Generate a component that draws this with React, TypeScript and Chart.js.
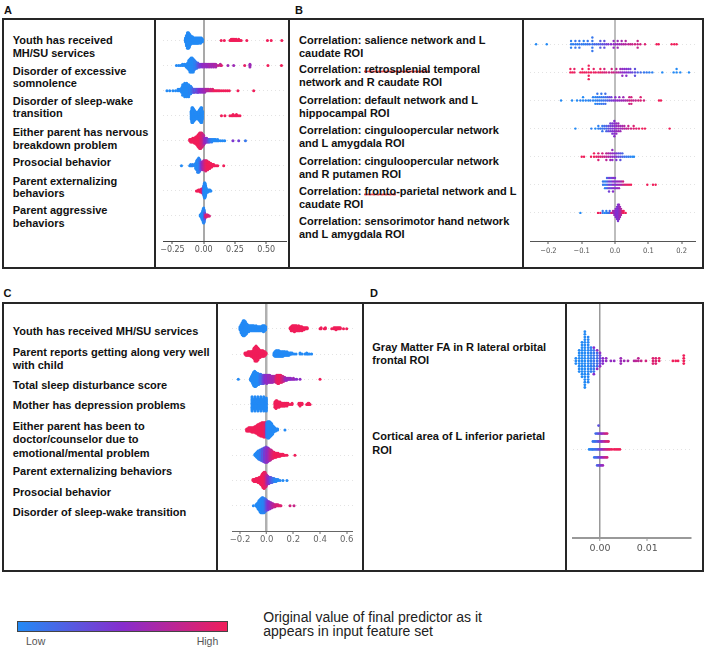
import React, { useEffect, useRef } from "react";
import { Chart, registerables } from "chart.js";
Chart.register(...registerables);

// Each entry: [SHAP value, number of samples sharing that value, original feature value 0 = low .. 1 = high]
type Trip = [number, number, number];

// ---------- Panel A ----------
const A_LABELS = [
  "Youth has received\nMH/SU services",
  "Disorder of excessive\nsomnolence",
  "Disorder of sleep-wake\ntransition",
  "Either parent has nervous\nbreakdown problem",
  "Prosocial behavior",
  "Parent externalizing\nbehaviors",
  "Parent aggressive\nbehaviors",
];
const A_TICKS = [-0.25, 0, 0.25, 0.5];
const A1: Trip[] = [[-0.146,4,0],[-0.138,9,0],[-0.13,13,0],[-0.122,13,0],[-0.114,11,0],[-0.106,8,0],[-0.098,6,0],[-0.09,6,0],[-0.082,5,0],[-0.074,5,0],[-0.066,5,0],[-0.058,5,0],[-0.05,5,0],[-0.042,5,0],[-0.034,4,0],[-0.026,5,0],[-0.018,4,0],[-0.01,3,0],[0.14,1,1],[0.165,1,1],[0.21,1,1],[0.22,2,1],[0.23,2,1],[0.24,2,1],[0.25,2,1],[0.26,2,1],[0.27,1,1],[0.28,2,1],[0.29,1,1],[0.3,1,1],[0.345,1,1],[0.51,1,1],[0.54,1,1],[0.625,1,1]];
const A2: Trip[] = [[-0.218,1,0],[-0.2,1,0],[-0.185,1,0],[-0.17,2,0],[-0.155,2,0],[-0.14,3,0],[-0.128,5,0],[-0.119,8,0],[-0.11,11,0],[-0.101,12,0],[-0.092,12,0],[-0.083,11,0],[-0.074,8,0.05],[-0.065,6,0.05],[-0.056,5,0.1],[-0.047,4,0.2],[-0.038,3,0.3],[-0.029,3,0.4],[-0.02,2,0.45],[-0.011,3,0.5],[-0.002,2,0.55],[0.007,3,0.55],[0.016,2,0.6],[0.025,3,0.55],[0.034,2,0.6],[0.043,3,0.6],[0.052,2,0.65],[0.061,3,0.6],[0.07,2,0.65],[0.079,3,0.6],[0.088,2,0.7],[0.097,3,0.65],[0.115,1,0.8],[0.133,2,0.75],[0.142,1,0.9],[0.194,1,0.6],[0.24,1,0.6],[0.328,1,0.95],[0.37,3,0.6],[0.514,1,1],[0.622,1,1]];
const A3: Trip[] = [[-0.294,1,0],[-0.272,1,0],[-0.246,1,0],[-0.225,1,0],[-0.205,2,0],[-0.19,2,0],[-0.176,4,0],[-0.168,8,0],[-0.16,6,0],[-0.152,10,0],[-0.144,7,0],[-0.136,10,0],[-0.128,6,0],[-0.12,9,0],[-0.112,5,0.05],[-0.104,6,0],[-0.096,4,0.1],[-0.088,3,0.15],[-0.08,3,0.2],[-0.072,3,0.35],[-0.064,2,0.1],[-0.056,3,0.4],[-0.048,3,0.3],[-0.04,3,0.45],[-0.032,2,0.5],[-0.024,3,0.5],[-0.016,2,0.55],[-0.008,3,0.55],[0.0,2,0.6],[0.008,3,0.6],[0.016,2,0.65],[0.024,2,0.7],[0.032,2,0.75],[0.04,2,0.7],[0.048,1,0.8],[0.056,2,0.85],[0.064,1,0.9],[0.072,2,0.9],[0.08,1,0.95],[0.09,1,1],[0.1,1,1],[0.11,1,1],[0.12,1,0.95],[0.13,1,1],[0.145,1,1],[0.16,1,1],[0.175,1,1],[0.19,1,1],[0.205,1,1],[0.274,1,1],[0.4,1,1]];
const A4: Trip[] = [[-0.1,8,0],[-0.094,14,0],[-0.088,14,0],[-0.082,12,0],[-0.076,10,0],[-0.07,8,0],[-0.064,7,0],[-0.058,6,0],[-0.052,6,0],[-0.046,7,0],[-0.04,8,0],[-0.034,10,0],[-0.028,12,0],[-0.022,14,0],[-0.016,14,0],[-0.01,8,0],[0.142,1,1],[0.17,1,1],[0.21,1,1],[0.225,1,1],[0.235,2,1],[0.25,1,1],[0.262,2,1],[0.275,1,1],[0.29,1,1]];
const A5: Trip[] = [[-0.112,2,1],[-0.104,3,1],[-0.096,3,1],[-0.088,4,1],[-0.08,4,1],[-0.072,5,1],[-0.064,6,1],[-0.056,7,1],[-0.048,9,1],[-0.04,11,1],[-0.032,13,1],[-0.024,13,0.95],[-0.016,12,0.9],[-0.008,10,0.85],[0.0,8,0.75],[0.008,5,0.6],[0.016,4,0.5],[0.024,4,0.55],[0.032,3,0.4],[0.04,3,0.3],[0.048,3,0.2],[0.056,2,0.1],[0.064,3,0.05],[0.072,2,0],[0.08,2,0],[0.088,2,0],[0.096,2,0],[0.104,1,0],[0.112,2,0],[0.12,1,0],[0.136,1,0],[0.152,1,0],[0.168,1,0],[0.234,1,0.45],[0.28,1,0.4],[0.334,1,0.1]];
const A6: Trip[] = [[-0.178,1,0],[-0.112,1,0],[-0.104,2,0],[-0.096,1,0],[-0.088,2,0.05],[-0.072,2,0],[-0.064,5,0],[-0.056,8,0],[-0.048,11,0.05],[-0.04,12,0],[-0.032,10,0.1],[-0.024,7,0.25],[-0.016,6,0.45],[-0.008,7,0.6],[0.0,8,0.7],[0.008,8,0.8],[0.016,9,0.9],[0.024,8,0.95],[0.032,7,1],[0.04,6,1],[0.048,5,1],[0.056,4,1],[0.064,3,1],[0.072,2,1],[0.08,2,1],[0.088,1,1],[0.1,1,1],[0.112,1,1],[0.16,1,1]];
const A7: Trip[] = [[-0.058,1,1],[-0.05,1,1],[-0.042,2,1],[-0.034,2,1],[-0.026,3,1],[-0.018,4,0.95],[-0.01,5,0.85],[-0.004,6,0.6],[0.0,10,0.15],[0.004,14,0],[0.008,16,0],[0.012,14,0],[0.016,10,0],[0.02,6,0],[0.026,3,0],[0.034,3,0],[0.042,2,0],[0.05,2,0],[0.058,1,0]];
const A8: Trip[] = [[-0.028,2,0],[-0.02,4,0],[-0.014,7,0],[-0.008,10,0],[-0.004,14,0],[0.0,16,0],[0.004,13,0.05],[0.008,7,0.3],[0.014,3,0.7],[0.02,3,0.9],[0.026,2,1],[0.032,2,0.8],[0.04,1,1],[0.046,1,0.85]];

// ---------- Panel B ----------
const B_LABELS = [
  "Correlation: salience network and L\ncaudate ROI",
  "Correlation: retrosplenial temporal\nnetwork and R caudate ROI",
  "Correlation: default network and L\nhippocampal ROI",
  "Correlation: cinguloopercular network\nand L amygdala ROI",
  "Correlation: cinguloopercular network\nand R putamen ROI",
  "Correlation: fronto-parietal network and L\ncaudate ROI",
  "Correlation: sensorimotor hand network\nand L amygdala ROI",
];
const B_TICKS = [-0.2, -0.1, 0, 0.1, 0.2];
const B1: Trip[] = [[-0.237,1,0],[-0.205,1,0],[-0.132,3,0.05],[-0.126,1,0.05],[-0.119,3,0.1],[-0.113,1,0.05],[-0.107,3,0.1],[-0.1,1,0.1],[-0.094,2,0.05],[-0.088,1,0.1],[-0.082,2,0.1],[-0.076,1,0.15],[-0.068,5,0.1],[-0.062,1,0.2],[-0.056,1,0.15],[-0.05,1,0.2],[-0.044,3,0.25],[-0.038,1,0.3],[-0.032,3,0.3],[-0.026,1,0.4],[-0.02,1,0.45],[-0.012,1,0.5],[-0.004,3,0.55],[0.002,1,0.55],[0.008,3,0.6],[0.014,1,0.6],[0.02,2,0.65],[0.026,1,0.7],[0.032,2,0.7],[0.04,1,0.75],[0.046,1,0.8],[0.052,1,0.8],[0.06,1,0.85],[0.068,3,0.8],[0.076,1,0.85],[0.09,1,0.9],[0.125,1,1],[0.131,1,1],[0.17,1,1],[0.178,1,1],[0.185,1,1]];
const B2: Trip[] = [[-0.134,2,1],[-0.128,1,1],[-0.122,2,0.95],[-0.104,1,1],[-0.098,2,1],[-0.092,1,1],[-0.086,1,0.95],[-0.079,5,1],[-0.072,1,1],[-0.064,2,0.95],[-0.058,1,1],[-0.05,1,0.9],[-0.044,2,1],[-0.038,1,0.9],[-0.032,2,0.85],[-0.026,1,0.9],[-0.018,1,0.8],[-0.01,2,0.85],[-0.004,1,0.8],[0.004,2,0.75],[0.01,1,0.7],[0.016,2,0.6],[0.022,3,0.55],[0.028,2,0.5],[0.034,3,0.5],[0.04,2,0.45],[0.046,2,0.4],[0.052,1,0.35],[0.06,3,0.3],[0.068,1,0.2],[0.077,1,0.15],[0.087,1,0.1],[0.095,1,0.1],[0.103,1,0.05],[0.112,1,0.05],[0.142,1,0],[0.176,1,0],[0.185,2,0],[0.196,1,0],[0.222,1,0]];
const B3: Trip[] = [[-0.162,1,0],[-0.129,1,0],[-0.114,1,0],[-0.104,1,0.05],[-0.096,2,0],[-0.088,1,0.05],[-0.08,1,0],[-0.074,1,0.05],[-0.066,2,0.05],[-0.059,3,0],[-0.053,4,0.1],[-0.047,3,0.05],[-0.041,4,0.1],[-0.035,3,0.1],[-0.029,4,0.15],[-0.023,2,0.2],[-0.017,2,0.3],[-0.011,2,0.4],[-0.005,1,0.45],[0.001,2,0.5],[0.007,1,0.55],[0.013,2,0.55],[0.019,1,0.6],[0.025,2,0.6],[0.031,1,0.65],[0.037,1,0.7],[0.043,3,0.8],[0.049,3,0.85],[0.055,1,0.75],[0.062,1,0.8],[0.07,1,0.85],[0.077,2,0.9],[0.087,1,0.85],[0.132,1,1],[0.138,1,1]];
const B4: Trip[] = [[-0.119,1,0],[-0.071,1,0.05],[-0.059,1,0],[-0.05,2,0.05],[-0.044,1,0.1],[-0.038,3,0.1],[-0.032,2,0.15],[-0.026,3,0.2],[-0.02,3,0.3],[-0.014,4,0.4],[-0.008,5,0.45],[-0.002,7,0.5],[0.004,5,0.55],[0.01,4,0.6],[0.016,3,0.6],[0.022,2,0.65],[0.028,2,0.7],[0.034,1,0.75],[0.04,2,0.8],[0.048,1,0.85],[0.056,2,0.9],[0.064,1,0.9],[0.072,1,0.95],[0.082,1,1],[0.09,1,1],[0.164,1,1]];
const B5: Trip[] = [[-0.1,1,1],[-0.093,1,1],[-0.072,1,1],[-0.063,2,1],[-0.056,1,0.95],[-0.05,3,0.9],[-0.044,1,0.9],[-0.038,2,0.85],[-0.032,1,0.8],[-0.026,3,0.75],[-0.02,2,0.7],[-0.014,3,0.6],[-0.008,4,0.55],[-0.002,2,0.5],[0.004,3,0.45],[0.01,2,0.35],[0.016,3,0.3],[0.022,2,0.2],[0.028,1,0.15],[0.034,1,0.1],[0.04,1,0.1],[0.046,1,0.05],[0.052,1,0],[0.057,1,0]];
const B6: Trip[] = [[-0.036,2,0.1],[-0.03,3,0.05],[-0.024,4,0.2],[-0.018,5,0.4],[-0.012,4,0.35],[-0.006,5,0.5],[0.0,4,0.45],[0.006,3,0.55],[0.012,3,0.6],[0.018,2,0.65],[0.024,2,0.8],[0.03,1,0.9],[0.036,1,0.95],[0.042,1,1],[0.048,1,1],[0.097,1,1],[0.114,1,1],[0.122,1,1]];
const B7: Trip[] = [[-0.104,1,0],[-0.051,1,1],[-0.044,1,0.95],[-0.037,2,0.1],[-0.031,1,0],[-0.026,2,0.05],[-0.021,1,0.1],[-0.016,2,0.2],[-0.011,1,0.9],[-0.006,2,0.7],[-0.002,3,0.6],[0.002,5,0.5],[0.006,7,0.5],[0.009,9,0.45],[0.012,8,0.55],[0.015,6,0.6],[0.018,4,0.7],[0.022,2,0.9],[0.026,2,1],[0.032,1,1]];

// ---------- Panel C ----------
const C_LABELS = [
  "Youth has received MH/SU services",
  "Parent reports getting along very well\nwith child",
  "Total sleep disturbance score",
  "Mother has depression problems",
  "Either parent has been to\ndoctor/counselor due to\nemotional/mental problem",
  "Parent externalizing behaviors",
  "Prosocial behavior",
  "Disorder of sleep-wake transition",
];
const C_TICKS = [-0.2, 0, 0.2, 0.4, 0.6];
const C1: Trip[] = [[-0.2,4,0],[-0.192,9,0],[-0.184,13,0],[-0.176,16,0],[-0.168,16,0],[-0.16,14,0],[-0.152,11,0],[-0.144,8,0],[-0.136,7,0],[-0.128,6,0],[-0.12,6,0],[-0.112,6,0],[-0.104,6,0],[-0.096,6,0],[-0.088,5,0],[-0.08,6,0],[-0.072,5,0],[-0.064,5,0],[-0.056,5,0],[-0.048,5,0],[-0.04,5,0],[-0.032,6,0],[-0.024,7,0],[-0.016,6,0],[-0.008,4,0],[0.176,2,1],[0.184,5,1],[0.192,6,1],[0.2,6,1],[0.208,7,1],[0.216,6,1],[0.224,6,1],[0.232,5,1],[0.24,6,1],[0.248,5,1],[0.256,4,1],[0.264,5,1],[0.272,3,1],[0.28,3,1],[0.288,2,1],[0.296,2,1],[0.304,2,1],[0.4,1,1],[0.408,2,1],[0.432,1,1],[0.44,2,1],[0.488,1,1],[0.504,2,1],[0.512,2,1],[0.52,3,1],[0.528,2,1],[0.536,2,1],[0.544,2,1],[0.552,2,1],[0.576,1,1],[0.6,1,1]];
const C2: Trip[] = [[-0.163,2,1],[-0.155,3,1],[-0.148,3,1],[-0.14,4,1],[-0.133,4,1],[-0.125,4,1],[-0.118,5,1],[-0.11,5,1],[-0.103,7,1],[-0.095,10,1],[-0.088,13,1],[-0.08,14,1],[-0.073,13,1],[-0.065,11,1],[-0.058,8,1],[-0.05,7,1],[-0.043,6,1],[-0.035,6,1],[-0.028,6,1],[-0.02,5,1],[-0.013,4,1],[-0.005,2,1],[0.055,3,0],[0.062,5,0],[0.07,6,0],[0.077,6,0],[0.085,6,0],[0.092,6,0],[0.1,5,0],[0.107,5,0],[0.115,5,0],[0.122,5,0],[0.13,4,0],[0.137,4,0],[0.145,3,0],[0.152,4,0],[0.16,3,0],[0.167,3,0],[0.175,2,0],[0.182,2,0],[0.19,2,0],[0.205,1,0],[0.22,1,0],[0.25,2,0],[0.265,1,0],[0.287,1,0],[0.3,2,0],[0.31,1,0],[0.322,1,0],[0.337,1,0]];
const C3: Trip[] = [[-0.213,1,0],[-0.12,3,0],[-0.113,6,0],[-0.105,10,0],[-0.098,14,0],[-0.09,16,0],[-0.083,15,0],[-0.075,13,0],[-0.068,12,0],[-0.06,11,0],[-0.053,10,0.05],[-0.045,10,0.1],[-0.038,9,0.15],[-0.03,9,0.25],[-0.023,9,0.35],[-0.015,8,0.45],[-0.008,8,0.5],[0.0,9,0.55],[0.008,8,0.5],[0.015,8,0.6],[0.023,8,0.55],[0.03,7,0.6],[0.038,7,0.65],[0.045,7,0.6],[0.053,6,0.7],[0.06,6,0.65],[0.068,7,0.8],[0.075,8,0.9],[0.083,9,0.95],[0.09,9,1],[0.098,8,0.95],[0.105,8,1],[0.113,7,0.9],[0.12,6,0.85],[0.128,5,0.8],[0.135,4,0.7],[0.143,3,0.6],[0.15,3,0.55],[0.158,2,0.6],[0.165,2,0.55],[0.173,2,0.6],[0.18,2,0.55],[0.19,1,0.5],[0.2,2,0.6],[0.21,1,0.55],[0.225,1,0.5],[0.25,1,0.55],[0.4,1,1]];
const C4: Trip[] = [[-0.11,12,0],[-0.099,8,0],[-0.088,12,0],[-0.077,8,0],[-0.066,12,0],[-0.055,8,0],[-0.044,12,0],[-0.033,8,0],[-0.022,12,0],[-0.011,8,0],[-0.003,11,0],[0.062,5,1],[0.07,7,1],[0.077,6,1],[0.085,4,1],[0.092,5,1],[0.1,4,1],[0.107,3,1],[0.115,3,1],[0.122,3,1],[0.13,3,1],[0.137,3,1],[0.145,2,1],[0.152,3,1],[0.16,2,1],[0.175,1,1],[0.19,2,1],[0.242,2,1],[0.25,3,1],[0.257,2,1],[0.265,2,1],[0.3,1,1],[0.31,2,1],[0.317,2,1],[0.325,1,1]];
const C5: Trip[] = [[-0.15,3,1],[-0.142,3,1],[-0.135,4,1],[-0.127,4,1],[-0.12,4,1],[-0.112,5,1],[-0.105,5,1],[-0.097,5,1],[-0.09,6,1],[-0.082,7,1],[-0.075,8,1],[-0.067,10,1],[-0.06,11,1],[-0.052,12,1],[-0.045,13,1],[-0.037,14,1],[-0.03,14,1],[-0.022,15,1],[-0.015,15,0.95],[-0.008,14,0.9],[0.0,15,0.15],[0.008,17,0],[0.015,17,0],[0.022,16,0],[0.03,14,0],[0.037,12,0],[0.045,9,0],[0.052,6,0],[0.06,4,0],[0.067,3,0],[0.075,2,0],[0.082,2,0],[0.137,1,0]];
const C6: Trip[] = [[-0.088,2,0],[-0.08,4,0],[-0.073,6,0],[-0.065,8,0],[-0.058,9,0.05],[-0.05,10,0],[-0.043,11,0.1],[-0.035,12,0.15],[-0.028,13,0.3],[-0.02,14,0.2],[-0.013,15,0.5],[-0.005,16,0.35],[0.002,15,0.6],[0.01,14,0.5],[0.017,12,0.65],[0.025,11,0.7],[0.032,10,0.8],[0.04,8,0.85],[0.047,7,0.9],[0.055,6,0.95],[0.062,5,1],[0.07,5,1],[0.077,4,1],[0.085,4,1],[0.092,3,1],[0.1,3,1],[0.107,2,1],[0.115,2,1],[0.122,2,1],[0.13,1,1],[0.137,1,1],[0.152,1,1],[0.212,1,1]];
const C7: Trip[] = [[-0.103,2,1],[-0.095,3,1],[-0.088,3,1],[-0.08,4,1],[-0.073,4,1],[-0.065,5,1],[-0.058,6,1],[-0.05,7,1],[-0.043,9,1],[-0.035,12,1],[-0.028,15,1],[-0.02,17,1],[-0.013,16,0.95],[-0.005,13,0.9],[0.002,10,0.7],[0.01,8,0.6],[0.017,7,0.5],[0.025,6,0.4],[0.032,6,0.3],[0.04,5,0.2],[0.047,4,0.15],[0.055,4,0.1],[0.062,3,0.05],[0.07,3,0],[0.077,2,0],[0.085,2,0],[0.1,1,0],[0.122,1,0],[0.152,1,0]];
const C8: Trip[] = [[-0.1,1,0],[-0.08,2,0],[-0.073,4,0],[-0.065,7,0],[-0.058,10,0],[-0.05,13,0],[-0.043,15,0],[-0.035,16,0],[-0.028,16,0.05],[-0.02,15,0],[-0.013,14,0.1],[-0.005,12,0.2],[0.002,10,0.35],[0.01,9,0.45],[0.017,8,0.5],[0.025,7,0.55],[0.032,6,0.6],[0.04,5,0.65],[0.047,4,0.7],[0.055,3,0.75],[0.062,3,0.8],[0.07,2,0.85],[0.077,2,0.9],[0.085,2,0.85],[0.092,1,0.9],[0.1,1,0.95],[0.107,1,0.9],[0.175,1,0.85],[0.205,1,0.8]];

// ---------- Panel D ----------
const D_LABELS = [
  "Gray Matter FA in R lateral orbital\nfrontal ROI",
  "Cortical area of L inferior parietal\nROI",
];
const D_TICKS = [0, 0.01];
const D1: Trip[] = [[-0.0051,3,0],[-0.0044,9,0],[-0.0038,14,0],[-0.0032,22,0],[-0.0025,18,0.02],[-0.0019,10,0.05],[-0.0013,9,0.1],[-0.0013,2,0.5],[-0.0006,6,0.15],[-0.0006,2,0.55],[0.0,4,0.35],[0.0,2,0.55],[0.0006,3,0.5],[0.0013,2,0.55],[0.0023,1,0.55],[0.003,1,0.55],[0.0044,3,0.6],[0.0051,1,0.6],[0.0059,1,0.65],[0.0072,1,0.7],[0.0076,1,0.75],[0.0081,2,0.75],[0.0087,1,0.8],[0.0097,1,0.85],[0.0112,3,0.9],[0.0118,3,0.9],[0.0125,2,0.95],[0.0154,1,1],[0.016,1,1],[0.0165,1,1],[0.0177,4,1]];
const D2: Trip[] = [[-0.0023,1,0],[-0.002,1,0.05],[-0.0017,1,0.05],[-0.0015,2,0.1],[-0.0012,3,0.1],[-0.0009,4,0.15],[-0.0006,5,0.2],[-0.0003,6,0.3],[0.0,5,0.4],[0.0003,5,0.5],[0.0006,5,0.6],[0.0009,4,0.7],[0.0012,4,0.8],[0.0015,4,0.85],[0.0018,2,0.9],[0.0021,1,0.95],[0.0025,1,1],[0.003,1,1],[0.0034,1,1],[0.0038,1,1],[0.0042,1,1]];

// ---------- helpers ----------
const FONT = '"Liberation Sans", Arial, Helvetica, sans-serif';
const STOPS: [number, number[]][] = [
  [0, [35, 138, 245]],
  [0.5, [135, 45, 205]],
  [1, [240, 30, 90]],
];
function cmap(t: number): string {
  for (let i = 1; i < STOPS.length; i++) {
    const [t1, c1] = STOPS[i];
    const [t0, c0] = STOPS[i - 1];
    if (t <= t1) {
      const f = (t - t0) / (t1 - t0);
      const c = c0.map((v, k) => Math.round(v + (c1[k] - v) * f));
      return `rgb(${c[0]},${c[1]},${c[2]})`;
    }
  }
  const c = STOPS[STOPS.length - 1][1];
  return `rgb(${c[0]},${c[1]},${c[2]})`;
}

// SHAP-style beeswarm stacking (100 bins per row, alternate up/down, row height 0.4)
function swarm(rows: Trip[][]) {
  const pts: { x: number; y: number }[] = [];
  const cols: string[] = [];
  const n = rows.length;
  rows.forEach((row, i) => {
    const base = n - 1 - i;
    const vals: Trip[] = [];
    row.forEach((t) => {
      for (let k = 0; k < t[1]; k++) vals.push(t);
    });
    const xs = vals.map((v) => v[0]);
    const mn = Math.min(...xs);
    const mx = Math.max(...xs);
    const q = xs.map((x) => Math.round((100 * (x - mn)) / (mx - mn + 1e-8)));
    const order = xs.map((_, j) => j).sort((a, b) => q[a] - q[b] || a - b);
    const ys = new Array(xs.length).fill(0);
    let layer = 0;
    let last = -1;
    order.forEach((j) => {
      if (q[j] !== last) layer = 0;
      ys[j] = Math.ceil(layer / 2) * ((layer % 2) * 2 - 1);
      layer++;
      last = q[j];
    });
    const s = (0.9 * 0.4) / Math.max(...ys.map((y) => y + 1));
    vals.forEach((v, j) => {
      pts.push({ x: v[0], y: base + ys[j] * s });
      cols.push(cmap(v[2]));
    });
  });
  return { pts, cols };
}

function fmt(v: number, dec: number) {
  const s = Math.abs(v).toFixed(dec);
  return (v < -1e-12 ? "\u2212" : "") + s;
}

const PAD = 16;
const XH = 24;

type Cfg = {
  rows: Trip[][];
  xMin: number;
  xMax: number;
  ticks: number[];
  dec: number;
  axL: number;
  axR: number;
  axY: number;
  rowSp: number;
  clip: [number, number, number, number];
  radius: number;
  zeroColor: string;
  zeroWidth: number;
  axisColor: string;
  axisWidth: number;
  tickFamily: string;
  tickSize: number;
  tickPad: number;
  tickColor: string;
  rowLine: string;
};

function SwarmPlot({ cfg }: { cfg: Cfg }) {
  const ref = useRef<HTMLCanvasElement>(null);
  const n = cfg.rows.length;
  const top = Math.round(cfg.axY - (n + 1) * cfg.rowSp);
  const left = cfg.axL - PAD;
  const w = cfg.axR - cfg.axL + 2 * PAD;
  const h = cfg.axY - top + XH;
  const [cl, ct, cr, cb] = cfg.clip;

  useEffect(() => {
    const { pts, cols } = swarm(cfg.rows);
    const isZero = (c: any) => c.tick && Math.abs(c.tick.value) < 1e-12;
    const chart = new Chart(ref.current as HTMLCanvasElement, {
      type: "scatter",
      data: {
        datasets: [
          {
            data: pts,
            pointBackgroundColor: cols,
            pointBorderWidth: 0,
            pointRadius: cfg.radius,
            pointHoverRadius: cfg.radius,
          } as any,
        ],
      },
      options: {
        responsive: false,
        animation: false,
        devicePixelRatio: 1,
        events: [],
        layout: { padding: { left: PAD, right: PAD, top: 0, bottom: 0 } },
        plugins: { legend: { display: false }, tooltip: { enabled: false } },
        scales: {
          x: {
            type: "linear",
            min: cfg.xMin,
            max: cfg.xMax,
            bounds: "data",
            afterBuildTicks: (s: any) => {
              s.ticks = cfg.ticks.map((v) => ({ value: v }));
            },
            afterFit: (s: any) => {
              s.height = XH;
            },
            ticks: {
              callback: (v: any) => fmt(Number(v), cfg.dec),
              color: cfg.tickColor,
              font: { family: cfg.tickFamily, size: cfg.tickSize },
              padding: cfg.tickPad,
              autoSkip: false,
              maxRotation: 0,
            },
            grid: {
              color: (c: any) => (isZero(c) ? cfg.zeroColor : "rgba(0,0,0,0)"),
              lineWidth: (c: any) => (isZero(c) ? cfg.zeroWidth : 0),
              tickColor: cfg.axisColor,
              tickWidth: 1,
              tickLength: 3,
              drawTicks: true,
            },
            border: { display: true, color: cfg.axisColor, width: cfg.axisWidth },
          },
          y: {
            type: "linear",
            min: -1,
            max: n,
            bounds: "data",
            afterBuildTicks: (s: any) => {
              s.ticks = cfg.rows.map((_, i) => ({ value: i }));
            },
            afterFit: (s: any) => {
              s.width = 0;
            },
            ticks: { display: false },
            grid: { color: cfg.rowLine, lineWidth: 1, drawTicks: false },
            border: { display: false, dash: [1, 3] },
          },
        },
      } as any,
    });
    return () => chart.destroy();
  }, []);

  return (
    <div
      style={{
        position: "absolute",
        left: cl,
        top: ct,
        width: cr - cl,
        height: cb - ct,
        overflow: "hidden",
      }}
    >
      <canvas
        ref={ref}
        width={w}
        height={h}
        style={{ position: "absolute", left: left - cl, top: top - ct, width: w, height: h }}
      />
    </div>
  );
}

// red spell-check squiggle drawn as a repeating background under the flagged words
const WAVE =
  "url(\"data:image/svg+xml;utf8,<svg xmlns='http://www.w3.org/2000/svg' width='4' height='3'><path d='M0 2.5 L1 0.6 L2 2.5 L3 0.6 L4 2.5' fill='none' stroke='%23e0303a' stroke-width='0.9'/></svg>\")";
const SPELL = /(retrosplenial|fronto)/;
function decorate(line: string) {
  return line.split(SPELL).map((part, i) =>
    SPELL.test(part) ? (
      <span
        key={i}
        style={{
          backgroundImage: WAVE,
          backgroundRepeat: "repeat-x",
          backgroundSize: "4px 3px",
          backgroundPosition: "0 calc(100% - 1.5px)",
        }}
      >
        {part}
      </span>
    ) : (
      <React.Fragment key={i}>{part}</React.Fragment>
    )
  );
}

function Labels({ labels, ys, x, step }: { labels: string[]; ys: number[]; x: number; step: number }) {
  return (
    <>
      {labels.map((lab, k) =>
        lab.split("\n").map((ln, i) => (
          <div
            key={k + "-" + i}
            style={{
              position: "absolute",
              left: x,
              top: ys[k] - 6.5 + i * step,
              whiteSpace: "nowrap",
              fontFamily: FONT,
              fontWeight: "bold",
              fontSize: 11,
              lineHeight: "13px",
              color: "#111",
            }}
          >
            {decorate(ln)}
          </div>
        ))
      )}
    </>
  );
}

function Box({ l, t, r, b }: { l: number; t: number; r: number; b: number }) {
  return (
    <div
      style={{
        position: "absolute",
        left: l - 1,
        top: t - 1,
        width: r - l + 2,
        height: b - t + 2,
        border: "2px solid #262626",
        boxSizing: "border-box",
      }}
    />
  );
}
function VLine({ x, t, b }: { x: number; t: number; b: number }) {
  return <div style={{ position: "absolute", left: x - 1, top: t - 1, width: 2, height: b - t + 2, background: "#262626" }} />;
}
function Letter({ ch, x, y }: { ch: string; x: number; y: number }) {
  return (
    <div style={{ position: "absolute", left: x, top: y - 6.5, fontFamily: FONT, fontWeight: "bold", fontSize: 11, lineHeight: "13px", color: "#111" }}>
      {ch}
    </div>
  );
}

const common = {
  tickFamily: '"DejaVu Sans", sans-serif',
  tickColor: "#555",
  rowLine: "#e3e3e3",
};

const CFG_A: Cfg = {
  ...common,
  rows: [A1, A2, A3, A4, A5, A6, A7, A8],
  xMin: -0.3256, xMax: 0.6664, ticks: A_TICKS, dec: 2,
  axL: 163, axR: 287, axY: 241, rowSp: 25.2, clip: [156, 20, 288, 267],
  radius: 1.5, zeroColor: "#a9a9a9", zeroWidth: 2, axisColor: "#444", axisWidth: 1,
  tickSize: 8, tickPad: 1,
};
const CFG_B: Cfg = {
  ...common,
  rows: [B1, B2, B3, B4, B5, B6, B7],
  xMin: -0.2553, xMax: 0.2432, ticks: B_TICKS, dec: 1,
  axL: 530, axR: 696, axY: 241, rowSp: 28.3, clip: [524, 20, 702, 267],
  radius: 1.2, zeroColor: "#bdbdbd", zeroWidth: 2, axisColor: "#555", axisWidth: 1,
  tickFamily: '"DejaVu Sans Condensed", "DejaVu Sans", sans-serif', tickSize: 7.5, tickPad: 2.5,
};
const CFG_C: Cfg = {
  ...common,
  rows: [C1, C2, C3, C4, C5, C6, C7, C8],
  xMin: -0.2603, xMax: 0.6473, ticks: C_TICKS, dec: 1,
  axL: 232, axR: 353, axY: 531, rowSp: 25.5, clip: [217, 304, 362, 570],
  radius: 1.5, zeroColor: "#b0b0b0", zeroWidth: 2.5, axisColor: "#666", axisWidth: 1,
  tickSize: 8.5, tickPad: 0.5, tickColor: "#666",
};
const CFG_D: Cfg = {
  ...common,
  rows: [D1, D2],
  xMin: -0.005705, xMax: 0.019227, ticks: D_TICKS, dec: 2,
  axL: 573, axR: 691, axY: 538, rowSp: 89.1, clip: [567, 304, 702, 569],
  radius: 1.4, zeroColor: "#999", zeroWidth: 1.5, axisColor: "#999", axisWidth: 2,
  tickSize: 9.5, tickPad: 1.5,
};

export default function App() {
  const grad = `linear-gradient(to right, ${[0, 0.25, 0.5, 0.75, 1].map((t) => cmap(t)).join(", ")})`;
  return (
    <div style={{ position: "absolute", left: 0, top: 0, width: 708, height: 651, background: "#fff", overflow: "hidden" }}>
      <Letter ch="A" x={4} y={10.5} />
      <Letter ch="B" x={295} y={10} />
      <Letter ch="C" x={3.5} y={293.5} />
      <Letter ch="D" x={370} y={293.5} />

      <Box l={3} t={19} r={289} b={268} />
      <VLine x={155.3} t={19} b={268} />
      <Box l={289} t={19} r={703} b={268} />
      <VLine x={523} t={19} b={268} />
      <Box l={3} t={303} r={363} b={571} />
      <VLine x={216.5} t={303} b={571} />
      <Box l={363} t={303} r={703} b={570.5} />
      <VLine x={565.7} t={303} b={570.5} />

      <Labels labels={A_LABELS} ys={[40.7, 71, 101, 132.7, 162.7, 181, 210.7]} x={12.7} step={12.7} />
      <Labels labels={B_LABELS} ys={[40, 69.3, 100, 130, 161, 191.7, 221.7]} x={299} step={13} />
      <Labels labels={C_LABELS} ys={[331.7, 352.7, 385.7, 405.7, 426.7, 471.7, 492.3, 512.7]} x={12.7} step={13.2} />
      <Labels labels={D_LABELS} ys={[347.3, 436.7]} x={372.3} step={13.4} />

      <SwarmPlot cfg={CFG_A} />
      <SwarmPlot cfg={CFG_B} />
      <SwarmPlot cfg={CFG_C} />
      <SwarmPlot cfg={CFG_D} />

      <div style={{ position: "absolute", left: 17, top: 621, width: 211, height: 11, border: "1px solid #444", boxSizing: "border-box", background: grad }} />
      <div style={{ position: "absolute", left: 26, top: 634.5, fontFamily: FONT, fontSize: 10.5, lineHeight: "12px", color: "#555" }}>Low</div>
      <div style={{ position: "absolute", left: 150, width: 68.3, textAlign: "right", top: 634.5, fontFamily: FONT, fontSize: 10.5, lineHeight: "12px", color: "#555" }}>High</div>
      <div style={{ position: "absolute", left: 263.3, top: 609.5, fontFamily: FONT, fontSize: 14, lineHeight: "14px", color: "#222", whiteSpace: "nowrap" }}>
        <div>Original value of final predictor as it</div>
        <div>appears in input feature set</div>
      </div>
    </div>
  );
}
